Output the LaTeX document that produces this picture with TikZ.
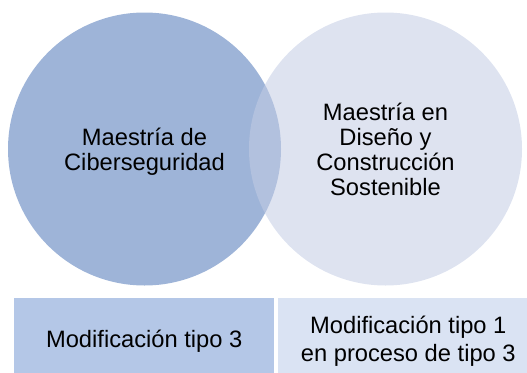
\documentclass[tikz,border=0pt]{standalone}
\usepackage{fontspec}
\setmainfont{Liberation Sans}
\usepackage{tikz}
\usetikzlibrary{positioning,calc}

\definecolor{cyberblue}{RGB}{158,180,216}
\definecolor{disenoblue}{RGB}{195,204,228}
\definecolor{tipothree}{RGB}{180,199,231}
\definecolor{tipoone}{RGB}{218,227,243}

\tikzset{
  venn/.style = {circle, minimum size = 273pt, inner sep = 0pt, text depth = 0pt,
    align = center, font = \fontsize{23.7}{25}\selectfont},
  modbox/.style = {rectangle, minimum width = 260pt, minimum height = 87pt,
    inner sep = 0pt, align = center, font = \fontsize{23.7}{28}\selectfont}
}

\begin{document}
\begin{tikzpicture}[x=1pt, y=-1pt]
  \useasboundingbox (0,0) rectangle (527,372);

  % circle of the first master
  \node[venn, fill = cyberblue] (cyber) at (144.5,149)
    {Maestría de\\Ciberseguridad};

  % circle of the second master (over the first one)
  \node[venn, fill = disenoblue, fill opacity = 0.55, text opacity = 1]
    (diseno) at (385.5,149)
    {Maestría en\\Diseño y\\Construcción\\Sostenible};

  % boxes below the circles
  \node[modbox, fill = tipothree, anchor = north west] (tipo3) at (14,298)
    {Modificación tipo 3};
  \node[modbox, fill = tipoone, right = 3.7pt of tipo3.north east,
    anchor = north west] (tipo1)
    {Modificación tipo 1\\en proceso de tipo 3};
\end{tikzpicture}
\end{document}
